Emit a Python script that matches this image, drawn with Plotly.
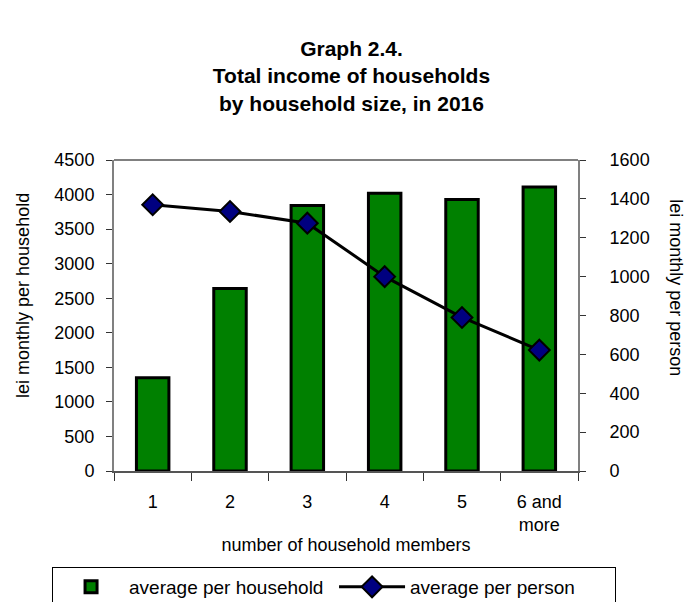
import plotly.graph_objects as go

categories = ["1", "2", "3", "4", "5", "6 and<br>more"]
per_household = [1350, 2640, 3840, 4020, 3930, 4110]
per_person = [1370, 1335, 1275, 1000, 790, 622]

FONT = "Liberation Sans, Arial, sans-serif"

fig = go.Figure()
fig.add_trace(go.Bar(
    x=categories, y=per_household, name="average per household",
    marker=dict(color="#008000", line=dict(color="black", width=3)),
    yaxis="y",
))
fig.add_trace(go.Scatter(
    x=categories, y=per_person, name="average per person",
    mode="lines+markers",
    line=dict(color="black", width=3),
    marker=dict(symbol="diamond", size=16, color="#000080", line=dict(color="black", width=2)),
    yaxis="y2",
))

# page body has an 8px default margin, so the figure is sized to fit the window
fig.update_layout(
    width=687, height=594,
    margin=dict(l=106, r=117, t=152, b=131, autoexpand=False),
    paper_bgcolor="white", plot_bgcolor="white",
    font=dict(family=FONT, size=18, color="black"),
    title=dict(
        text="<b>Graph 2.4.<br>Total income of households<br>by household size, in 2016</b>",
        x=0.5, xanchor="center", y=0.919, yanchor="top",
        font=dict(family=FONT, size=21, color="black"),
    ),
    bargap=0.58,
    showlegend=True,
    legend=dict(
        orientation="h",
        x=1.082, xanchor="right", y=-0.373, yanchor="middle",
        bordercolor="black", borderwidth=1, font=dict(size=19),
        itemwidth=66, entrywidth=200, entrywidthmode="pixels", tracegroupgap=0,
    ),
    xaxis=dict(
        type="category", automargin=False,
        showline=True, linecolor="#555555", linewidth=2,
        ticks="outside", tickson="boundaries", ticklen=8, tickcolor="#333333",
        ticklabelstandoff=13,
        showgrid=False, mirror=False,
        title=dict(text="number of household members", font=dict(size=18), standoff=4),
    ),
    yaxis=dict(
        range=[0, 4500], dtick=500, automargin=False,
        showline=True, linecolor="#808080", linewidth=2,
        ticks="outside", ticklen=6, tickcolor="#333333",
        ticklabelstandoff=8,
        showgrid=False, zeroline=False,
    ),
    yaxis2=dict(
        range=[0, 1600], dtick=200, overlaying="y", side="right", automargin=False,
        showline=True, linecolor="#808080", linewidth=2,
        ticks="outside", ticklen=6, tickcolor="#333333",
        ticklabelstandoff=20,
        showgrid=False, zeroline=False,
    ),
    shapes=[dict(type="line", xref="paper", yref="paper", x0=0, x1=1, y0=1, y1=1,
                 line=dict(color="#808080", width=2))],
    annotations=[
        dict(text="lei monthly per household", textangle=-90,
             xref="paper", yref="paper", x=-0.196, y=0.563, xanchor="center", yanchor="middle",
             showarrow=False, font=dict(family=FONT, size=18, color="black")),
        dict(text="lei monthly per person", textangle=90,
             xref="paper", yref="paper", x=1.211, y=0.588, xanchor="center", yanchor="middle",
             showarrow=False, font=dict(family=FONT, size=18, color="black")),
    ],
)

fig.write_html("out.html")
